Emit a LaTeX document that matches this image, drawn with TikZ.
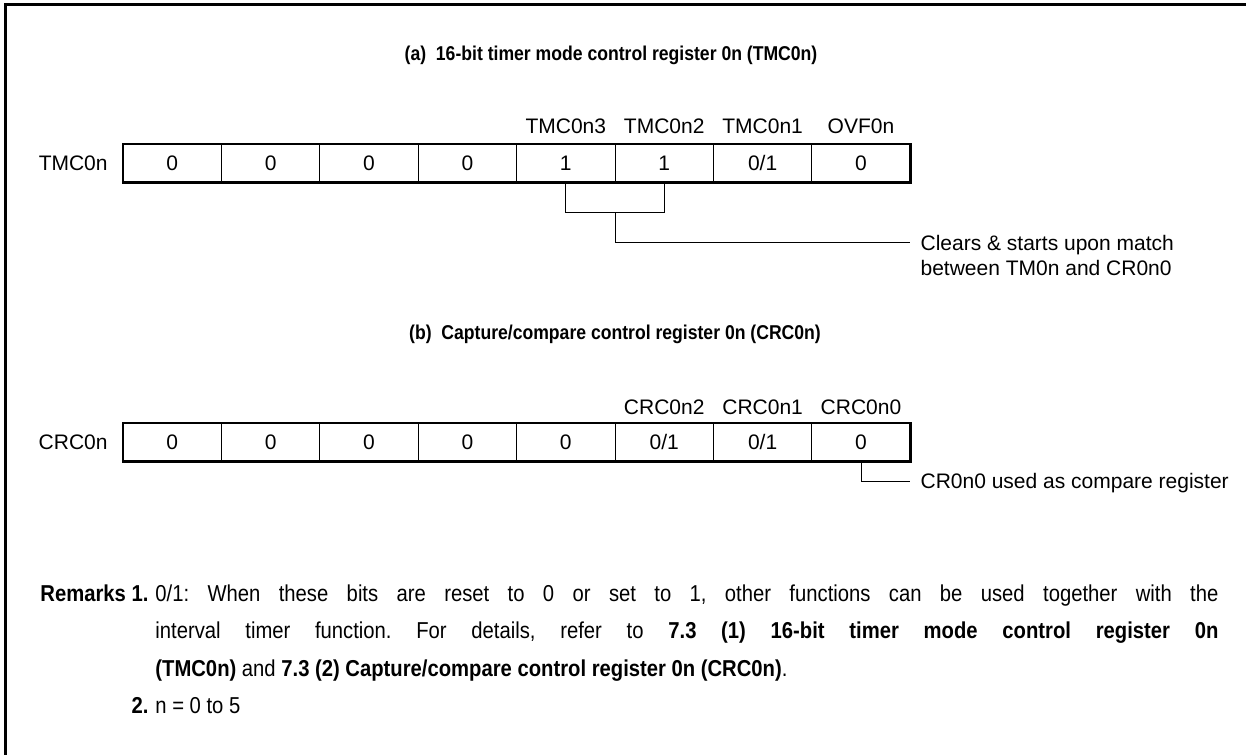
\documentclass[tikz,border=0pt]{standalone}
\usepackage{fontspec}
\setmainfont{Liberation Sans}
\newfontfamily\rmkfont[FakeStretch=0.88]{Liberation Sans}
\usetikzlibrary{positioning}
\newlength\rmkhang
\begin{document}
\begin{tikzpicture}[x=0.5pt, y=-0.5pt, bitcell/.style={draw, line width=0.5pt, minimum width=49.2pt, minimum height=19.2pt, inner sep=0pt, outer sep=0pt, font=\fontsize{10.5}{12}\selectfont}, bitname/.style={inner sep=0pt, font=\fontsize{10.5}{12}\selectfont}, regtitle/.style={inner sep=0pt, font=\rmkfont\fontsize{10}{12}\selectfont\bfseries}, note/.style={inner sep=0pt, align=left, font=\fontsize{10.5}{12.5}\selectfont}, conn/.style={line width=0.5pt}, regframe/.style={line width=1.3pt}]
\useasboundingbox (0,0) rectangle (1246,755);
\draw[line width=1.25pt] (1246,4.5) -| (5.5,755);
\node[regtitle] (ttla) at (611,55) {(a)\ \ 16-bit timer mode control register 0n (TMC0n)};
\node[bitcell] (a1) at (172.2,163.2) {0};
\node[bitcell, right=0pt of a1] (a2) {0};
\node[bitcell, right=0pt of a2] (a3) {0};
\node[bitcell, right=0pt of a3] (a4) {0};
\node[bitcell, right=0pt of a4] (a5) {1};
\node[bitcell, right=0pt of a5] (a6) {1};
\node[bitcell, right=0pt of a6] (a7) {0/1};
\node[bitcell, right=0pt of a7] (a8) {0};
\draw[regframe] (a1.north west) rectangle (a8.south east);
\node[bitname, left=7.5pt of a1] (tmc) {TMC0n};
\node[bitname, above=5pt of a5] (tmc3) {TMC0n3};
\node[bitname, above=5pt of a6] (tmc2) {TMC0n2};
\node[bitname, above=5pt of a7] (tmc1) {TMC0n1};
\node[bitname, above=5pt of a8] (ovf) {OVF0n};
\coordinate (brk) at ([yshift=-15pt]a5.south east);
\coordinate (clrend) at ([yshift=-30pt]a8.south east);
\draw[conn] (a5.south) |- (brk) -| (a6.south);
\draw[conn] (brk) |- (clrend);
\node[note, anchor=north west] (clrnote) at ([xshift=5pt,yshift=3.9pt]clrend) {Clears \& starts upon match\\between TM0n and CR0n0};
\node[regtitle] (ttlb) at (615,334) {(b)\ \ Capture/compare control register 0n (CRC0n)};
\node[bitcell] (b1) at (172.2,442.2) {0};
\node[bitcell, right=0pt of b1] (b2) {0};
\node[bitcell, right=0pt of b2] (b3) {0};
\node[bitcell, right=0pt of b3] (b4) {0};
\node[bitcell, right=0pt of b4] (b5) {0};
\node[bitcell, right=0pt of b5] (b6) {0/1};
\node[bitcell, right=0pt of b6] (b7) {0/1};
\node[bitcell, right=0pt of b7] (b8) {0};
\draw[regframe] (b1.north west) rectangle (b8.south east);
\node[bitname, left=7.5pt of b1] (crc) {CRC0n};
\node[bitname, above=4pt of b6] (crc2) {CRC0n2};
\node[bitname, above=4pt of b7] (crc1) {CRC0n1};
\node[bitname, above=4pt of b8] (crc0) {CRC0n0};
\coordinate (cmpend) at ([yshift=-10pt]b8.south east);
\draw[conn] (b8.south) |- (cmpend);
\node[note, anchor=base west] (cmpnote) at ([xshift=5pt,yshift=-3.7pt]cmpend) {CR0n0 used as compare register};
\node[inner sep=0pt, anchor=north west, text width=589pt, align=justify, font=\rmkfont\fontsize{11.5}{18.75}\selectfont] (rmk) at (40,584) {\tolerance=10000\frenchspacing\settowidth{\rmkhang}{\textbf{Remarks 1.}}\addtolength{\rmkhang}{3.5pt}\hangindent=\rmkhang\hangafter=1\noindent\makebox[\rmkhang][l]{\textbf{Remarks 1.}}0/1: When these bits are reset to 0 or set to 1, other functions can be used together with the\linebreak interval timer function. For details, refer to \textbf{7.3 (1) 16-bit timer mode control register 0n}\linebreak \textbf{(TMC0n)} and \textbf{7.3 (2) Capture/compare control register 0n (CRC0n)}.\par\noindent\makebox[\rmkhang][r]{\textbf{2.}\hspace{3.5pt}}n = 0 to 5};
\end{tikzpicture}
\end{document}
